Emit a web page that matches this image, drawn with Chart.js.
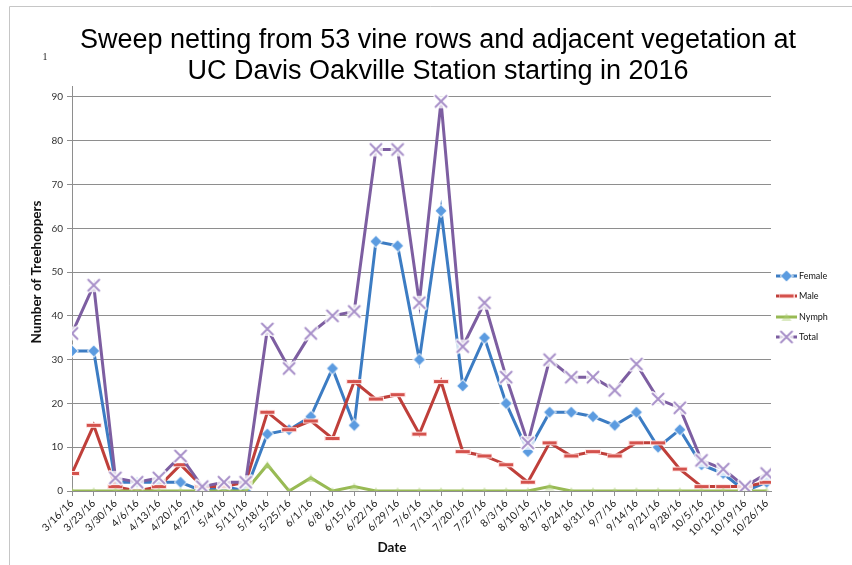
<!DOCTYPE html>
<html>
<head>
<meta charset="utf-8">
<script src="https://cdn.jsdelivr.net/npm/chart.js@4.4.1/dist/chart.umd.min.js"></script>
<style>
  html, body { margin: 0; padding: 0; background: #fff; }
  #wrap { position: relative; width: 852px; height: 565px; }
</style>
</head>
<body>
<div id="wrap"><canvas id="c"></canvas></div>
<script>
// Sampling dates (weekly sweeps)
const dates = ['3/16/16','3/23/16','3/30/16','4/6/16','4/13/16','4/20/16','4/27/16','5/4/16','5/11/16',
  '5/18/16','5/25/16','6/1/16','6/8/16','6/15/16','6/22/16','6/29/16','7/6/16','7/13/16','7/20/16',
  '7/27/16','8/3/16','8/10/16','8/17/16','8/24/16','8/31/16','9/7/16','9/14/16','9/21/16','9/28/16',
  '10/5/16','10/12/16','10/19/16','10/26/16'];

// Treehopper counts per date
const female = [32,32,2,2,2,2,0,1,0,13,14,17,28,15,57,56,30,64,24,35,20,9,18,18,17,15,18,10,14,6,4,0,2];
const male   = [4,15,1,0,1,6,1,1,2,18,14,16,12,25,21,22,13,25,9,8,6,2,11,8,9,8,11,11,5,1,1,1,2];
const nymph  = [0,0,0,0,0,0,0,0,0,6,0,3,0,1,0,0,0,0,0,0,0,0,1,0,0,0,0,0,0,0,0,0,0];
const total  = [36,47,3,2,3,8,1,2,2,37,28,36,40,41,78,78,43,89,33,43,26,11,30,26,26,23,29,21,19,7,5,1,4];

const seriesNames = ['Female', 'Male', 'Nymph', 'Total'];
const yTickValues = [0, 10, 20, 30, 40, 50, 60, 70, 80, 90];
const titleLines = ['Sweep netting from 53 vine rows and adjacent vegetation at',
                    'UC Davis Oakville Station starting in 2016'];
const yTitle = 'Number of Treehoppers';
const xTitle = 'Date';
const cornerNote = '1';

// Small bitmap markers with a soft halo
function makeMarker(w, h, draw) {
  const c = document.createElement('canvas');
  c.width = w; c.height = h;
  draw(c.getContext('2d'));
  return c;
}
const diamondMark = makeMarker(14, 14, g => {
  g.beginPath(); g.moveTo(7, 0); g.lineTo(14, 7); g.lineTo(7, 14); g.lineTo(0, 7); g.closePath();
  g.fillStyle = 'rgba(255,255,255,0.85)'; g.fill();
  g.beginPath(); g.moveTo(7, 1.5); g.lineTo(12.5, 7); g.lineTo(7, 12.5); g.lineTo(1.5, 7); g.closePath();
  g.fillStyle = '#5B9BE0'; g.fill();
});
const dashMark = makeMarker(16, 7, g => {
  g.fillStyle = 'rgba(255,230,228,0.9)'; g.fillRect(0, 1, 16, 5);
  g.fillStyle = '#D4524D'; g.fillRect(1, 2, 14, 3);
});
const triMark = makeMarker(12, 10, g => {
  g.beginPath(); g.moveTo(6, 1); g.lineTo(11, 9); g.lineTo(1, 9); g.closePath();
  g.fillStyle = 'rgba(175,208,120,0.45)'; g.fill();
});
const crossMark = makeMarker(18, 18, g => {
  g.fillStyle = 'rgba(255,255,255,0.75)'; g.fillRect(2, 2, 14, 14);
  g.lineCap = 'round';
  g.strokeStyle = 'rgba(255,255,255,0.95)'; g.lineWidth = 4.5;
  g.beginPath(); g.moveTo(3.5, 3.5); g.lineTo(14.5, 14.5); g.moveTo(14.5, 3.5); g.lineTo(3.5, 14.5); g.stroke();
  g.strokeStyle = '#A890C9'; g.lineWidth = 2;
  g.beginPath(); g.moveTo(3.5, 3.5); g.lineTo(14.5, 14.5); g.moveTo(14.5, 3.5); g.lineTo(3.5, 14.5); g.stroke();
});

const lineColors = ['#3C7CC3', '#BF3F3A', '#98BA54', '#7D5EA1'];
const markers = [diamondMark, dashMark, triMark, crossMark];
const values = [female, male, nymph, total];

const datasets = values.map((vals, i) => ({
  label: seriesNames[i],
  data: vals.map((v, k) => ({ x: k, y: v })),
  borderColor: lineColors[i],
  backgroundColor: lineColors[i],
  borderWidth: 3,
  tension: 0,
  pointStyle: markers[i],
  pointRadius: 5,
  pointHoverRadius: 5,
  order: [3, 2, 1, 0][i]
}));

const AXIS_GRAY = '#8e8e8e';

// Frame, titles and the side legend
const decorations = {
  id: 'decorations',
  beforeDraw(chart) {
    const ctx = chart.ctx;
    ctx.save();
    ctx.fillStyle = '#fff';
    ctx.fillRect(0, 0, chart.width, chart.height);
    ctx.strokeStyle = '#c6c6c6';
    ctx.lineWidth = 1;
    ctx.beginPath();
    ctx.moveTo(9.5, chart.height); ctx.lineTo(9.5, 6.5); ctx.lineTo(chart.width, 6.5);
    ctx.stroke();
    ctx.restore();
  },
  afterDraw(chart) {
    const ctx = chart.ctx;
    ctx.save();
    // main title
    ctx.fillStyle = '#000';
    ctx.textAlign = 'center';
    ctx.textBaseline = 'alphabetic';
    ctx.font = '27px "Liberation Sans", Arial, sans-serif';
    ctx.fillText(titleLines[0], 438, 48);
    ctx.fillText(titleLines[1], 438, 79);
    // corner note
    ctx.font = '10px "Liberation Serif", serif';
    ctx.fillStyle = '#222';
    ctx.fillText(cornerNote, 45, 60);
    // axis titles
    ctx.font = 'bold 13.5px Lato, "Liberation Sans", sans-serif';
    ctx.fillStyle = '#111';
    ctx.textBaseline = 'middle';
    ctx.fillText(xTitle, 392, 548);
    ctx.save();
    ctx.translate(37, 272);
    ctx.rotate(-Math.PI / 2);
    ctx.fillText(yTitle, 0, 0);
    ctx.restore();
    // legend
    const lx0 = 776, lx1 = 797, tx = 799;
    const ys = [276, 296, 317, 337];
    ctx.font = '9px Lato, "Liberation Sans", sans-serif';
    ctx.textAlign = 'left';
    chart.data.datasets.forEach((ds, i) => {
      const y = ys[i];
      ctx.strokeStyle = ds.borderColor;
      ctx.lineWidth = 3;
      ctx.beginPath(); ctx.moveTo(lx0, y); ctx.lineTo(lx1, y); ctx.stroke();
      const m = ds.pointStyle;
      ctx.drawImage(m, (lx0 + lx1) / 2 - m.width / 2, y - m.height / 2);
      ctx.fillStyle = '#111';
      ctx.fillText(ds.label, tx, y);
    });
    ctx.restore();
  }
};

new Chart(document.getElementById('c'), {
  type: 'line',
  data: { datasets },
  options: {
    responsive: true,
    maintainAspectRatio: false,
    devicePixelRatio: 1,
    animation: false,
    events: [],
    layout: { padding: { top: 86, right: 81, bottom: 0, left: 0 } },
    plugins: {
      legend: { display: false },
      title: { display: false },
      tooltip: { enabled: false }
    },
    scales: {
      x: {
        type: 'linear',
        min: 0,
        max: 32.2,
        afterFit(scale) { scale.height = 74; },
        afterBuildTicks(scale) { scale.ticks = dates.map((d, i) => ({ value: i })); },
        ticks: {
          autoSkip: false,
          maxRotation: 45,
          minRotation: 45,
          padding: 1,
          color: '#222',
          font: { family: 'Lato, "Liberation Sans", sans-serif', size: 10.5 },
          callback: v => dates[v]
        },
        grid: { drawOnChartArea: false, drawTicks: true, tickLength: 5, color: AXIS_GRAY },
        border: { display: true, color: AXIS_GRAY, width: 1 }
      },
      y: {
        type: 'linear',
        min: 0,
        max: 92.5,
        afterFit(scale) { scale.width = 72; },
        afterBuildTicks(scale) { scale.ticks = yTickValues.map(v => ({ value: v })); },
        ticks: {
          color: '#333',
          padding: 4,
          font: { family: 'Lato, "Liberation Sans", sans-serif', size: 10 }
        },
        grid: { color: AXIS_GRAY, lineWidth: 1, tickLength: 5 },
        border: { display: true, color: AXIS_GRAY, width: 1 }
      }
    }
  },
  plugins: [decorations]
});
</script>
</body>
</html>
